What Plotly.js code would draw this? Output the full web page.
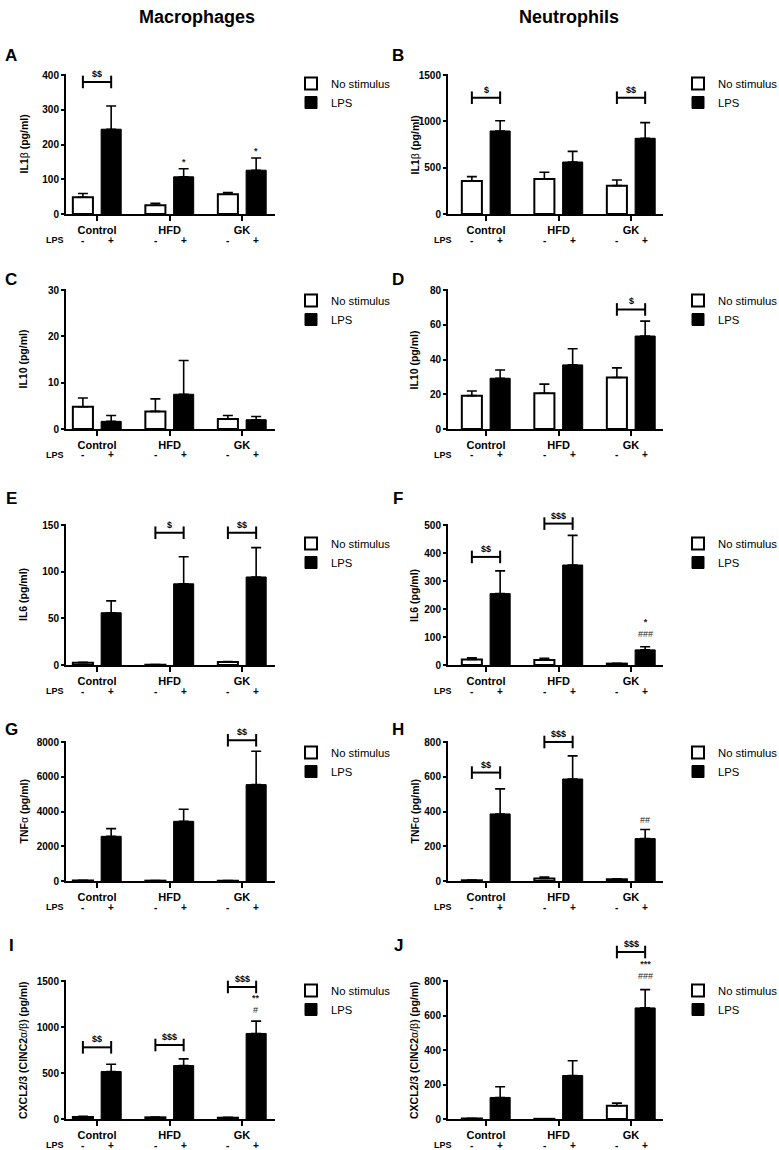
<!DOCTYPE html>
<html>
<head>
<meta charset="utf-8">
<script src="https://cdn.plot.ly/plotly-3.0.1.min.js"></script>
<style>html,body{margin:0;padding:0;background:#fff;}#chart{width:779px;height:1150px;}</style>
</head>
<body>
<div id="chart"></div>
<script>
// ---------- DATA ----------
const groups = ['Control', 'HFD', 'GK'];
const lpsSigns = ['-', '+'];
const seriesNames = ['No stimulus', 'LPS'];
const columnTitles = ['Macrophages', 'Neutrophils'];

// A: IL1β, macrophages
const aNoStim = [48, 25, 57];      const aNoStimErr = [11, 6, 5];
const aLps = [244, 107, 126];      const aLpsErr = [67, 23, 35];
const aTicks = [0, 100, 200, 300, 400];
const aBrackets = [[0, 380, '$$']];
const aMarks = [[1, 133, '<b>*</b>'], [2, 163, '<b>*</b>']];

// B: IL1β, neutrophils
const bNoStim = [356, 378, 306];   const bNoStimErr = [47, 72, 61];
const bLps = [896, 561, 817];      const bLpsErr = [111, 115, 169];
const bTicks = [0, 500, 1000, 1500];
const bBrackets = [[0, 1255, '$'], [2, 1255, '$$']];
const bMarks = [];

// C: IL10, macrophages
const cNoStim = [4.8, 3.8, 2.15];  const cNoStimErr = [1.9, 2.7, 0.75];
const cLps = [1.65, 7.5, 2.0];     const cLpsErr = [1.25, 7.3, 0.7];
const cTicks = [0, 10, 20, 30];
const cBrackets = [];
const cMarks = [];

// D: IL10, neutrophils
const dNoStim = [19.2, 20.6, 29.6]; const dNoStimErr = [2.7, 5.2, 5.6];
const dLps = [29.2, 36.9, 53.5];    const dLpsErr = [4.8, 9.3, 8.6];
const dTicks = [0, 20, 40, 60, 80];
const dBrackets = [[2, 68.8, '$']];
const dMarks = [];

// E: IL6, macrophages
const eNoStim = [2.5, 0.3, 3.2];   const eNoStimErr = [0.4, 0.2, 0.4];
const eLps = [56, 87, 94.3];       const eLpsErr = [12.7, 29, 31.5];
const eTicks = [0, 50, 100, 150];
const eBrackets = [[1, 141.7, '$'], [2, 141.7, '$$']];
const eMarks = [];

// F: IL6, neutrophils
const fNoStim = [20, 18, 5];       const fNoStimErr = [6, 6, 1];
const fLps = [255, 357, 54];       const fLpsErr = [81, 106, 11];
const fTicks = [0, 100, 200, 300, 400, 500];
const fBrackets = [[0, 386, '$$'], [1, 505, '$$$']];
const fMarks = [[2, 89, '<b>*</b><br>###']];

// G: TNFα, macrophages
const gNoStim = [30, 20, 15];      const gNoStimErr = [10, 10, 5];
const gLps = [2571, 3435, 5547];   const gLpsErr = [442, 691, 1919];
const gTicks = [0, 2000, 4000, 6000, 8000];
const gBrackets = [[2, 8100, '$$']];
const gMarks = [];

// H: TNFα, neutrophils
const hNoStim = [4, 15, 10];       const hNoStimErr = [1, 8, 2];
const hLps = [386, 587, 244];      const hLpsErr = [144, 133, 52];
const hTicks = [0, 200, 400, 600, 800];
const hBrackets = [[0, 624, '$$'], [1, 800, '$$$']];
const hMarks = [[2, 316, '##']];

// I: CXCL2/3, macrophages
const iNoStim = [22, 18, 14];      const iNoStimErr = [7, 4, 4];
const iLps = [516, 581, 930];      const iLpsErr = [79, 72, 134];
const iTicks = [0, 500, 1000, 1500];
const iBrackets = [[0, 779, '$$'], [1, 804, '$$$'], [2, 1435, '$$$']];
const iMarks = [[2, 1120, '<b>**</b><br>#']];

// J: CXCL2/3, neutrophils
const jNoStim = [3, 1, 77];        const jNoStimErr = [1, 0.5, 15];
const jLps = [125, 252, 644];      const jLpsErr = [62, 86, 106];
const jTicks = [0, 200, 400, 600, 800];
const jBrackets = [[2, 968, '$$$']];
const jMarks = [[2, 794, '<b>***</b><br>###']];

const yTitles = {
  il1b: '<b>IL1</b>β<b> (pg/ml)</b>',
  il10: '<b>IL10 (pg/ml)</b>',
  il6: '<b>IL6 (pg/ml)</b>',
  tnfa: '<b>TNF</b>α<b> (pg/ml)</b>',
  cxcl: '<b>CXCL2/3 (CINC2</b>α/β<b>) (pg/ml)</b>'
};

const panels = [
  {letter:'A', noStim:aNoStim, noStimErr:aNoStimErr, lps:aLps, lpsErr:aLpsErr, ticks:aTicks, title:yTitles.il1b, brackets:aBrackets, marks:aMarks},
  {letter:'B', noStim:bNoStim, noStimErr:bNoStimErr, lps:bLps, lpsErr:bLpsErr, ticks:bTicks, title:yTitles.il1b, brackets:bBrackets, marks:bMarks},
  {letter:'C', noStim:cNoStim, noStimErr:cNoStimErr, lps:cLps, lpsErr:cLpsErr, ticks:cTicks, title:yTitles.il10, brackets:cBrackets, marks:cMarks},
  {letter:'D', noStim:dNoStim, noStimErr:dNoStimErr, lps:dLps, lpsErr:dLpsErr, ticks:dTicks, title:yTitles.il10, brackets:dBrackets, marks:dMarks},
  {letter:'E', noStim:eNoStim, noStimErr:eNoStimErr, lps:eLps, lpsErr:eLpsErr, ticks:eTicks, title:yTitles.il6, brackets:eBrackets, marks:eMarks},
  {letter:'F', noStim:fNoStim, noStimErr:fNoStimErr, lps:fLps, lpsErr:fLpsErr, ticks:fTicks, title:yTitles.il6, brackets:fBrackets, marks:fMarks},
  {letter:'G', noStim:gNoStim, noStimErr:gNoStimErr, lps:gLps, lpsErr:gLpsErr, ticks:gTicks, title:yTitles.tnfa, brackets:gBrackets, marks:gMarks},
  {letter:'H', noStim:hNoStim, noStimErr:hNoStimErr, lps:hLps, lpsErr:hLpsErr, ticks:hTicks, title:yTitles.tnfa, brackets:hBrackets, marks:hMarks},
  {letter:'I', noStim:iNoStim, noStimErr:iNoStimErr, lps:iLps, lpsErr:iLpsErr, ticks:iTicks, title:yTitles.cxcl, brackets:iBrackets, marks:iMarks},
  {letter:'J', noStim:jNoStim, noStimErr:jNoStimErr, lps:jLps, lpsErr:jLpsErr, ticks:jTicks, title:yTitles.cxcl, brackets:jBrackets, marks:jMarks}
];

// ---------- LAYOUT GEOMETRY (pixels) ----------
const W = 779, H = 1150;
const FONT = 'Arial, "Liberation Sans", Helvetica, sans-serif';
const rows = [ {top:75, zero:214}, {top:290, zero:429}, {top:525, zero:665}, {top:742, zero:881}, {top:981, zero:1119} ];
const cols = [
  {x0:66, x1:275, range:[-0.428, 2.455], legendX:291, titleX:23, letterX:11, lpsX:55, colTitleX:197},
  {x0:448, x1:663, range:[-0.524, 2.441], legendX:678, titleX:414, letterX:398, lpsX:443, colTitleX:569}
];
const letterY = [56, 279, 498, 729, 945];
const legendFirstY = [83, 300, 543, 752, 990];
const BARGAP = 0.22, GROUPGAP = 0.29;
const OFF = (1 - BARGAP) / 4;
const EXT = 1.25;   // head-room above top tick for brackets and labels

const px = v => v / W;
const py = v => 1 - v / H;

const traces = [];
const layout = {
  width: W, height: H,
  margin: {l:0, r:0, t:0, b:0, pad:0, autoexpand:false},
  paper_bgcolor: '#fff', plot_bgcolor: 'rgba(0,0,0,0)',
  barmode: 'group', bargap: BARGAP, bargroupgap: GROUPGAP,
  showlegend: true,
  font: {family: FONT, color: '#000'},
  annotations: [], shapes: []
};

const boldFont = (s) => ({family: FONT, size: s, color: '#000', weight: 'bold'});

columnTitles.forEach((t, c) => {
  layout.annotations.push({text: t, xref:'paper', yref:'paper', x: px(cols[c].colTitleX), y: py(17),
    xanchor:'center', yanchor:'middle', showarrow:false, font: boldFont(18)});
});

panels.forEach((p, k) => {
  const r = Math.floor(k / 2), c = k % 2;
  const row = rows[r], col = cols[c];
  const sfx = k === 0 ? '' : String(k + 1);
  const xa = 'x' + sfx, ya = 'y' + sfx;
  const legKey = 'legend' + sfx;
  const xIdx = groups.map((g, i) => i);
  const yMax = p.ticks[p.ticks.length - 1];
  const domTop = row.zero - (row.zero - row.top) * EXT;

  traces.push({
    type:'bar', name: seriesNames[0], x: xIdx, y: p.noStim, xaxis: xa, yaxis: ya, legend: legKey,
    marker: {color:'#fff', line:{color:'#000', width:2}},
    error_y: {type:'data', array: p.noStimErr, arrayminus: p.noStimErr.map(() => 0), symmetric:false, color:'#000', thickness:1.6, width:5},
    cliponaxis: false, hoverinfo: 'skip'
  });
  traces.push({
    type:'bar', name: seriesNames[1], x: xIdx, y: p.lps, xaxis: xa, yaxis: ya, legend: legKey,
    marker: {color:'#000', line:{color:'#000', width:1}},
    error_y: {type:'data', array: p.lpsErr, arrayminus: p.lpsErr.map(() => 0), symmetric:false, color:'#000', thickness:1.6, width:5},
    cliponaxis: false, hoverinfo: 'skip'
  });

  if (p.brackets.length) {
    const bx = [], by = [];
    p.brackets.forEach(([g, lev]) => { bx.push(g - OFF, g + OFF, null); by.push(lev, lev, null); });
    traces.push({
      type:'scatter', mode:'lines+markers', x: bx, y: by, xaxis: xa, yaxis: ya, showlegend:false,
      line: {color:'#000', width:2}, marker: {symbol:'line-ns', size:9, color:'#000', line:{color:'#000', width:2}},
      cliponaxis:false, hoverinfo:'skip'
    });
    p.brackets.forEach(([g, lev, lab]) => {
      layout.annotations.push({text: lab, xref: xa, yref: ya, x: g, y: lev, yanchor:'bottom', yshift: 1,
        showarrow:false, font: boldFont(9)});
    });
  }
  p.marks.forEach(([g, lev, lab]) => {
    layout.annotations.push({text: lab, xref: xa, yref: ya, x: g + OFF, y: lev, yanchor:'bottom', borderpad:0,
      showarrow:false, font: {family: FONT, size: 9, color:'#222'}});
  });

  layout['xaxis' + sfx] = {
    domain: [px(col.x0), px(col.x1)], anchor: ya, range: col.range, type:'linear',
    tickvals: xIdx, ticktext: groups, ticks:'outside', ticklen:5, tickwidth:2, tickcolor:'#000',
    showline:true, linewidth:2, linecolor:'#000', showgrid:false, zeroline:false,
    tickfont: boldFont(11), fixedrange:true
  };
  layout['yaxis' + sfx] = {
    domain: [py(row.zero), py(domTop)], anchor: xa, range: [0, yMax * EXT],
    tickvals: p.ticks, ticktext: p.ticks.map(String), ticks:'outside', ticklen:4, tickwidth:2, tickcolor:'#000',
    showline:false, showgrid:false, zeroline:false,
    tickfont: boldFont(10), fixedrange:true
  };
  // y axis line: from zero to top tick only
  layout.shapes.push({type:'line', xref:'paper', yref:'paper', x0: px(col.x0 - 1), x1: px(col.x0 - 1),
    y0: py(row.zero + 2), y1: py(row.top - 1), line:{color:'#000', width:2}});

  layout[legKey] = {
    x: px(col.legendX), y: py(legendFirstY[r] - 14), xanchor:'left', yanchor:'top',
    bgcolor:'rgba(0,0,0,0)', borderwidth:0, font:{family: FONT, size:11.3, color:'#000'},
    traceorder:'normal', itemclick:false, itemdoubleclick:false
  };

  // y title
  layout.annotations.push({text: p.title, xref:'paper', yref:'paper', x: px(col.titleX), y: py((row.top + row.zero) / 2),
    xanchor:'center', yanchor:'middle', textangle:-90, showarrow:false, font:{family: FONT, size:10.5, color:'#000'}});
  // panel letter
  layout.annotations.push({text: p.letter, xref:'paper', yref:'paper', x: px(col.letterX), y: py(letterY[r]),
    xanchor:'center', yanchor:'middle', showarrow:false, font: boldFont(17)});
  // LPS row
  const lpsRowY = py(row.zero + 26);
  layout.annotations.push({text:'LPS', xref:'paper', yref:'paper', x: px(col.lpsX), y: lpsRowY,
    xanchor:'center', yanchor:'middle', showarrow:false, font: boldFont(9)});
  groups.forEach((g, i) => {
    lpsSigns.forEach((s, j) => {
      layout.annotations.push({text: s, xref: xa, yref:'paper', x: i + (j === 0 ? -OFF : OFF), y: lpsRowY,
        xanchor:'center', yanchor:'middle', showarrow:false, font: boldFont(10)});
    });
  });
});

Plotly.newPlot('chart', traces, layout, {staticPlot:true, displayModeBar:false});
</script>
</body>
</html>
